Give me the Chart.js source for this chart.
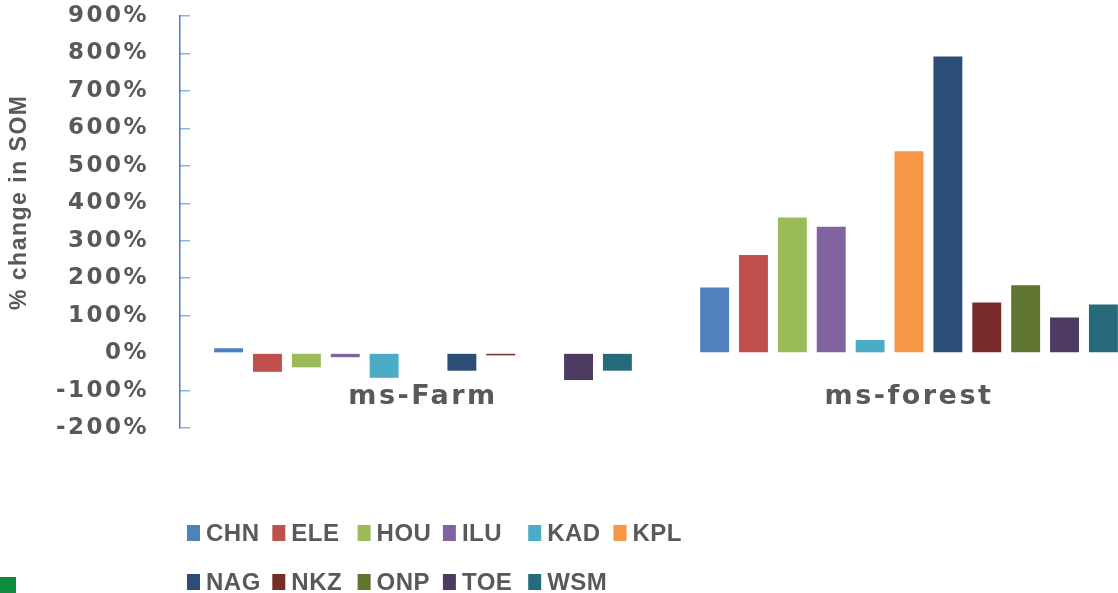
<!DOCTYPE html>
<html>
<head>
<meta charset="utf-8">
<script src="https://cdn.jsdelivr.net/npm/chart.js@4/dist/chart.umd.min.js"></script>
<style>
  html, body { margin: 0; padding: 0; background: #fff; overflow: hidden; }
  #wrap { position: relative; width: 1118px; height: 593px; overflow: hidden; }
  #somChart { position: absolute; left: 0; top: 0; }
  #corner { position: absolute; left: 0; top: 577px; width: 16px; height: 16px; background: #0e8b3d; }
</style>
</head>
<body>
<div id="wrap">
  <canvas id="somChart" width="1170" height="593"></canvas>
  <div id="corner"></div>
</div>
<script>
document.addEventListener("DOMContentLoaded", () => {

// land uses and sites
const categories = ['ms-Farm', 'ms-forest'];
const sites = ['CHN', 'ELE', 'HOU', 'ILU', 'KAD', 'KPL', 'NAG', 'NKZ', 'ONP', 'TOE', 'WSM'];
const siteColors = ['#4F81BD', '#C0504D', '#9BBB59', '#8064A2', '#4BACC6', '#F79646',
                    '#2C4D75', '#772C2A', '#5F7530', '#4D3B62', '#276A7C'];

// % change in SOM, [ms-Farm, ms-forest]
const chn = [13, 175];
const ele = [-50, 262];
const hou = [-38, 362];
const ilu = [-11, 337];
const kad = [-66, 35];
const kpl = [0, 539];
const nag = [-47, 792];
const nkz = [-6, 135];
const onp = [0, 181];
const toe = [-72, 95];
const wsm = [-47, 130];
const seriesValues = [chn, ele, hou, ilu, kad, kpl, nag, nkz, onp, toe, wsm];

const yMin = -200;
const yMax = 900;
const yStep = 100;

const textGray = '#595959';

// canvas letter spacing: wide tick labels, tighter axis title and legend
const spacingPlugin = {
    id: 'spacing',
    beforeUpdate(chart) { chart.ctx.letterSpacing = '2.5px'; },
    beforeDraw(chart) { chart.ctx.letterSpacing = '1.5px'; },
    beforeDatasetsDraw(chart) { chart.ctx.letterSpacing = '2.5px'; }
};

// two-row legend laid out on a fixed grid under the plot
const gridLegend = {
    id: 'gridLegend',
    afterDraw(chart) {
        const ctx = chart.ctx;
        ctx.save();
        ctx.letterSpacing = '0.5px';
        ctx.font = 'bold 24px "Liberation Sans", Arial, sans-serif';
        ctx.textBaseline = 'middle';
        ctx.textAlign = 'left';
        chart.data.datasets.forEach((ds, i) => {
            const col = i % 6;
            const row = Math.floor(i / 6);
            const x = 187 + col * 85.3;
            const y = 533 + row * 49;
            ctx.fillStyle = ds.backgroundColor;
            ctx.fillRect(x, y - 8, 13, 16);
            ctx.fillStyle = textGray;
            ctx.fillText(ds.label, x + 19, y + 1);
        });
        ctx.restore();
        ctx.letterSpacing = '0px';
    }
};

new Chart(document.getElementById('somChart'), {
    type: 'bar',
    data: {
        labels: categories,
        datasets: sites.map((s, i) => ({
            label: s,
            data: seriesValues[i],
            backgroundColor: siteColors[i],
            borderWidth: 0,
            categoryPercentage: 0.88,
            barPercentage: 0.744
        }))
    },
    options: {
        responsive: false,
        animation: false,
        layout: { padding: { top: 16, right: 18, bottom: 165, left: 0 } },
        plugins: {
            legend: { display: false },
            tooltip: { enabled: false }
        },
        scales: {
            x: {
                position: { y: 0 },
                afterFit: (scale) => { scale.height = 0; },
                grid: { display: false },
                border: { display: false },
                ticks: {
                    z: 1,
                    padding: 20,
                    color: textGray,
                    font: { family: '"DejaVu Sans"', size: 27, weight: 'bold' }
                }
            },
            y: {
                min: yMin,
                max: yMax,
                afterFit: (scale) => {
                    scale.width = 180;
                    scale.paddingTop = 0;
                    scale.paddingBottom = 0;
                },
                grid: {
                    drawOnChartArea: false,
                    drawTicks: true,
                    tickLength: -10,
                    tickColor: (c) => c.tick && c.tick.value === 0 ? 'rgba(0,0,0,0)' : '#8DB4E2',
                    lineWidth: 1.5
                },
                border: { display: true, color: '#4A7EBB', width: 1.5 },
                ticks: {
                    z: 1,
                    stepSize: yStep,
                    padding: 41,
                    color: textGray,
                    font: { family: '"DejaVu Sans"', size: 23, weight: 'bold' },
                    callback: value => value + '%'
                },
                title: {
                    display: true,
                    text: '     % change in SOM',
                    color: textGray,
                    padding: 6,
                    font: { family: '"Liberation Sans", Arial', size: 23, weight: 'bold' }
                }
            }
        }
    },
    plugins: [spacingPlugin, gridLegend]
});

});
</script>
</body>
</html>
